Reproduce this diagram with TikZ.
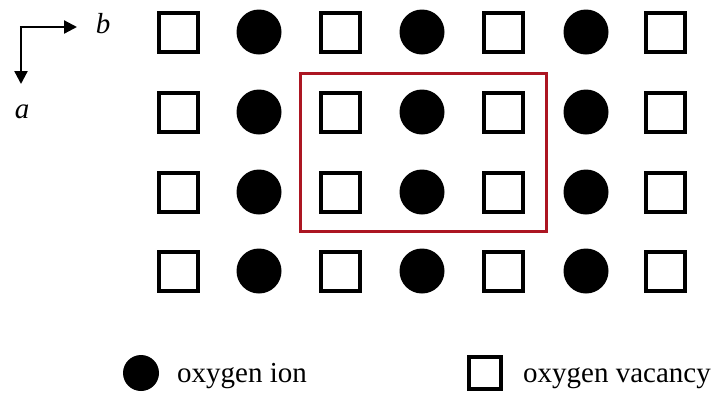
\documentclass[tikz,border=0pt]{standalone}
\usepackage{fontspec}
\setmainfont{Liberation Serif}
\usetikzlibrary{arrows.meta}
\definecolor{boxred}{RGB}{172,22,34}
\begin{document}
\begin{tikzpicture}[x=1pt,y=-1pt,
  vac/.style={draw=black,line width=4pt,fill=white,minimum size=39pt,inner sep=0pt,shape=rectangle},
  ion/.style={fill=black,circle,minimum size=45pt,inner sep=0pt},
  legvac/.style={draw=black,line width=3.5pt,fill=white,minimum size=32pt,inner sep=0pt,shape=rectangle},
  legion/.style={fill=black,circle,minimum size=36pt,inner sep=0pt},
  axis/.style={line width=2.3pt,-{Triangle[length=13pt,width=13pt]}},
  lbl/.style={font=\fontsize{29}{32}\selectfont,anchor=base west,inner sep=0pt},
  axlbl/.style={font=\fontsize{29}{32}\selectfont\itshape,inner sep=0pt}]
\useasboundingbox (0,0) rectangle (715,392);
% grid
\foreach \r/\y in {1/32,2/112,3/192,4/271}{
  \foreach \c/\x in {1/178,3/340,5/503,7/665}{
    \node[vac] (s-\r-\c) at (\x,\y) {};
  }
  \foreach \c/\x in {2/259,4/422,6/586}{
    \node[ion] (i-\r-\c) at (\x,\y) {};
  }
}
% red box
\draw[boxred,line width=3pt] (300,73) rectangle (546,231);
% axes
\coordinate (o) at (21,27);
\coordinate (bt) at (77,27);
\coordinate (at) at (21,84);
\draw[axis] ([xshift=-1.15pt]o) -- (bt);
\draw[axis] (o) -- (at);
\node[axlbl] (b) at (103,24) {b};
\node[axlbl] (a) at (22,112) {a};
% legend
\node[legion] (li) at (141,373) {};
\node[lbl] (lit) at (177,382) {oxygen ion};
\node[legvac] (lv) at (485,373) {};
\node[lbl] (lvt) at (523,382) {oxygen vacancy};
\end{tikzpicture}
\end{document}
